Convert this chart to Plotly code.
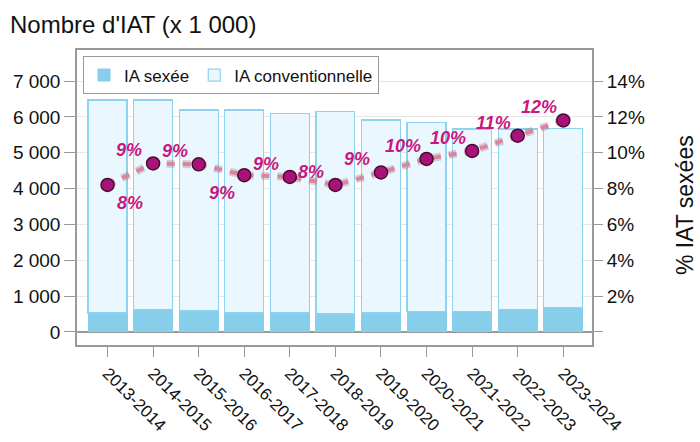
import plotly.graph_objects as go

# ---- data ----
categories = ["2013-2014", "2014-2015", "2015-2016", "2016-2017", "2017-2018",
              "2018-2019", "2019-2020", "2020-2021", "2021-2022", "2022-2023", "2023-2024"]
ia_sexee = [530, 625, 586, 550, 530, 502, 530, 567, 582, 628, 680]
ia_conventionnelle = [5940, 5845, 5604, 5640, 5570, 5638, 5380, 5283, 5078, 5032, 5000]
pct_sexees = [0.082, 0.094, 0.0935, 0.0875, 0.0865, 0.082, 0.089, 0.0965, 0.101, 0.1095, 0.118]
pct_labels = ["8%", "9%", "9%", "9%", "9%", "8%", "9%", "10%", "10%", "11%", "12%"]

left_tickvals = [0, 1000, 2000, 3000, 4000, 5000, 6000, 7000]
left_ticktext = ["0", "1 000", "2 000", "3 000", "4 000", "5 000", "6 000", "7 000"]
right_tickvals = [0, 0.02, 0.04, 0.06, 0.08, 0.10, 0.12, 0.14]
right_ticktext = ["", "2%", "4%", "6%", "8%", "10%", "12%", "14%"]

# label placement (style, not data): below for these indices
below_idx = {0, 3}

FONT = "Liberation Sans, Arial, sans-serif"
MAG = "#C8177F"

fig = go.Figure()
fig.add_trace(go.Bar(x=categories, y=ia_sexee, name="IA sexée",
                     marker=dict(color="#87CEEB", line=dict(color="#87CEEB", width=1))))
fig.add_trace(go.Bar(x=categories, y=ia_conventionnelle, name="IA conventionnelle",
                     marker=dict(color="#EBF7FE", line=dict(color="#8DD3F0", width=1.2))))

# shadow of line
fig.add_trace(go.Scatter(x=categories, y=pct_sexees, yaxis="y2", mode="lines",
                         line=dict(color="rgba(110,110,110,0.28)", width=8, dash="8px,8px"),
                         showlegend=False, hoverinfo="skip"))
fig.add_trace(go.Scatter(x=categories, y=pct_sexees, yaxis="y2", mode="lines",
                         line=dict(color="#E0829E", width=4, dash="8px,8px"),
                         showlegend=False, hoverinfo="skip"))
fig.add_trace(go.Scatter(x=categories, y=pct_sexees, yaxis="y2", mode="markers",
                         marker=dict(size=13, color="#A8137A", line=dict(color="#4A0A30", width=1.5)),
                         showlegend=False))

for i, (c, v, t) in enumerate(zip(categories, pct_sexees, pct_labels)):
    if i in below_idx:
        xs, ys = -22 if i == 3 else 22, -18
    else:
        xs, ys = -24, 13
    fig.add_annotation(x=c, y=v, xref="x", yref="y2", text=t, showarrow=False,
                       xshift=xs, yshift=ys,
                       font=dict(family=FONT, size=18, color=MAG, weight="bold", style="italic"))

fig.add_annotation(text="% IAT sexées", xref="paper", yref="paper", x=1.181, y=0.475,
                   textangle=-90, showarrow=False, xanchor="center", yanchor="middle",
                   font=dict(family=FONT, size=23, color="#111"))

fig.update_layout(
    width=700, height=442,
    barmode="stack", bargap=0.145,
    paper_bgcolor="white", plot_bgcolor="white",
    margin=dict(l=77, r=108, t=50, b=97, autoexpand=False),
    font=dict(family=FONT, color="#111"),
    title=dict(text="Nombre d'IAT (x 1 000)", xref="container", yref="container",
               x=10 / 700, xanchor="left", y=1 - 25 / 442, yanchor="middle",
               font=dict(family=FONT, size=24, color="#111")),
    legend=dict(orientation="h", x=0.0117, y=0.978, xanchor="left", yanchor="top",
                bordercolor="#999", borderwidth=1, bgcolor="white",
                font=dict(family=FONT, size=17, color="#111"), traceorder="normal"),
    xaxis=dict(type="category", range=[-0.67, 10.63], tickangle=45, automargin=False,
               ticks="outside", ticklen=10, tickcolor="#999",
               showline=True, linecolor="#999", linewidth=1.5, mirror=True,
               tickfont=dict(family=FONT, size=17, color="#111"), showgrid=False),
    yaxis=dict(range=[-363, 7865], tickvals=left_tickvals, ticktext=left_ticktext,
               automargin=False,
               ticks="outside", ticklen=11, tickcolor="#999",
               showline=True, linecolor="#999", linewidth=1.5, mirror=True,
               showgrid=True, gridcolor="#E6E6E6",
               zeroline=True, zerolinecolor="#999", zerolinewidth=1.5,
               tickfont=dict(family=FONT, size=19, color="#111")),
    yaxis2=dict(overlaying="y", side="right", range=[-0.00726, 0.1573],
                tickvals=right_tickvals, ticktext=right_ticktext, automargin=False,
                ticks="outside", ticklen=10, tickcolor="#999",
                showline=False, showgrid=False, zeroline=False,
                tickfont=dict(family=FONT, size=19, color="#111")),
)

fig.write_html("out.html", config={"displayModeBar": False},
               post_script="document.body.style.margin='0';document.body.style.overflow='hidden';")
